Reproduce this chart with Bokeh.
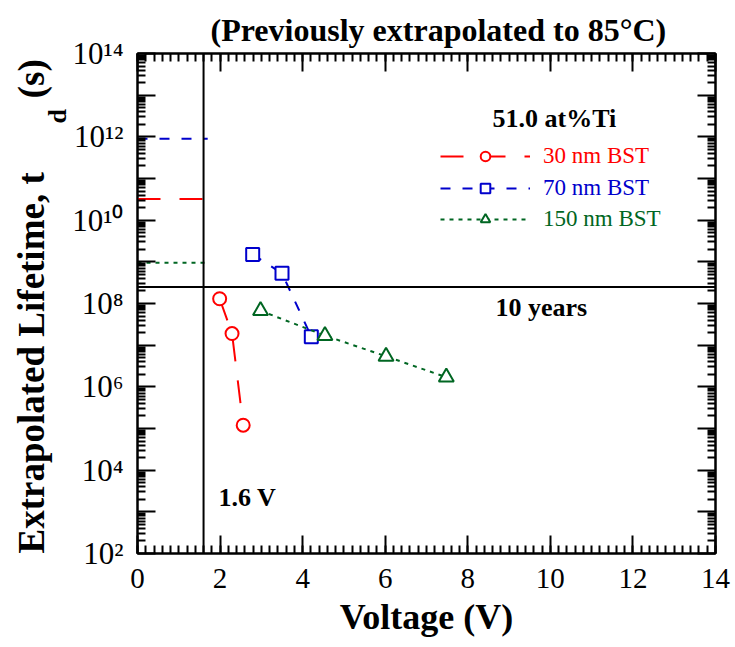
import math
from bokeh.plotting import figure
from bokeh.models import (Span, Label, Legend, LegendItem, FixedTicker, SingleIntervalTicker,
                          LinearAxis, LogAxis, CustomJSTickFormatter, Range1d, Title)
from bokeh.embed import file_html
from bokeh.resources import INLINE

# ---------------- data ----------------
v30 = [1.99, 2.29, 2.56]
t30 = [1.3e8, 1.9e7, 1.2e5]
v70 = [2.79, 3.50, 4.21]
t70 = [1.5e9, 5.3e8, 1.6e7]
v150 = [2.98, 4.54, 6.02, 7.48]
t150 = [6.7e7, 1.7e7, 5.4e6, 1.7e6]

ext_v = [0.0, 1.7]           # extrapolated level segment (0 V .. just past 1.6 V)
ext30 = 3.2e10
ext70 = 9.0e11
ext150 = 9.5e8

v_limit = 1.6                # vertical reference line
ten_years = 2.5e8            # horizontal reference line

x_ticks_interval = 2
y_decades = list(range(2, 15))

labels = ["30 nm BST", "70 nm BST", "150 nm BST"]
colors = ["#ff0000", "#0000cc", "#006622"]

FONT = "Liberation Serif"

p = figure(width=735, height=647, x_range=Range1d(0, 14), y_range=Range1d(1e2, 1e14),
           y_axis_type="log", output_backend="svg", toolbar_location=None,
           min_border_left=137, min_border_right=20, min_border_top=53, min_border_bottom=94)
p.xgrid.visible = False
p.ygrid.visible = False
p.outline_line_color = "black"
p.outline_line_width = 2
p.background_fill_color = "white"
p.border_fill_color = "white"
p.title.text = ""

xt = SingleIntervalTicker(interval=x_ticks_interval, num_minor_ticks=10)
yt = FixedTicker(ticks=[10.0 ** d for d in y_decades],
                 minor_ticks=[k * 10.0 ** d for d in y_decades[:-1] for k in range(2, 10)])

blank = CustomJSTickFormatter(code="return '';")
yfmt = CustomJSTickFormatter(code="""
const e = Math.round(Math.log10(tick));
if (e % 2 != 0) return "";
const sup = {"0":"\\u2070","1":"\\u00b9","2":"\\u00b2","3":"\\u00b3","4":"\\u2074","5":"\\u2075","6":"\\u2076","7":"\\u2077","8":"\\u2078","9":"\\u2079"};
return "10" + String(e).split("").map(c => sup[c]).join("");
""")

def style_axis(ax):
    ax.axis_line_width = 2
    ax.axis_line_color = "black"
    ax.major_tick_line_width = 2
    ax.minor_tick_line_width = 2
    ax.major_tick_in = 18
    ax.major_tick_out = 0
    ax.minor_tick_in = 8
    ax.minor_tick_out = 0
    ax.major_label_text_font = FONT
    ax.major_label_text_color = "black"
    ax.major_label_text_font_size = "28px"

xb = p.xaxis[0]
xb.ticker = xt
style_axis(xb)
xb.major_label_text_font_size = "29px"
xb.major_label_standoff = 15
xb.axis_label = "Voltage (V)"
xb.axis_label_text_font = FONT
xb.axis_label_text_font_size = "36px"
xb.axis_label_text_font_style = "bold"
xb.axis_label_text_color = "black"
xb.axis_label_standoff = 6

yl = p.yaxis[0]
yl.ticker = yt
yl.formatter = yfmt
style_axis(yl)
yl.major_label_text_font_size = "31px"
yl.major_label_standoff = 14

xa = LinearAxis(ticker=xt, formatter=blank)
style_axis(xa)
xa.major_label_standoff = 8
p.add_layout(xa, "above")
yr = LogAxis(ticker=yt, formatter=blank)
style_axis(yr)
yr.major_label_standoff = 0
p.add_layout(yr, "right")

# chart title, placed outside the (mirrored) top axis
p.add_layout(Title(text="(Previously extrapolated to 85\u00b0C)", align="left", offset=73,
                   vertical_align="top", standoff=8, text_font=FONT, text_font_size="32px",
                   text_font_style="bold", text_color="black"), "above")

# y axis title, built from pieces as in the original (subscript d shifted towards the plot)
p.add_layout(Title(text="d", align="left", offset=430, standoff=-4, vertical_align="bottom",
                   text_font=FONT, text_font_size="26px", text_font_style="bold",
                   text_color="black"), "left")
p.add_layout(Title(text="Extrapolated Lifetime, t" + "\u00a0" * 8 + "(s)", align="left", offset=0,
                   standoff=-18, vertical_align="bottom", text_font=FONT, text_font_size="37px",
                   text_font_style="bold", text_color="black"), "left")

# reference lines
p.add_layout(Span(location=v_limit, dimension="height", line_color="black", line_width=2))
p.add_layout(Span(location=ten_years, dimension="width", line_color="black", line_width=2))

# extrapolated levels
p.line(ext_v, [ext30, ext30], line_color=colors[0], line_width=2, line_dash="23 19")
p.line(ext_v, [ext70, ext70], line_color=colors[1], line_width=2, line_dash="10 12")
p.line(ext_v, [ext150, ext150], line_color=colors[2], line_width=2, line_dash="4 5")

# data series
l30 = p.line(v30, t30, line_color=colors[0], line_width=2, line_dash="23 19")
s30 = p.scatter(v30, t30, marker="circle", size=13, line_color=colors[0], line_width=2, fill_color="white")
l70 = p.line(v70, t70, line_color=colors[1], line_width=2, line_dash="10 12")
s70 = p.scatter(v70, t70, marker="square", size=13, line_color=colors[1], line_width=2, fill_color="white")
l150 = p.line(v150, t150, line_color=colors[2], line_width=2, line_dash="4 5")
s150 = p.scatter(v150, t150, marker="triangle", size=15, line_color=colors[2], line_width=2, fill_color="white")

rends = [(l30, s30), (l70, s70), (l150, s150)]
locs = [(303, 384), (303, 352), (303, 321)]
for (lr, sr), lab_, col, loc in zip(rends, labels, colors, locs):
    lg = Legend(items=[LegendItem(label=lab_, renderers=[lr, sr])], location=loc,
                glyph_width=90, glyph_height=24, label_height=24, label_standoff=13,
                padding=0, margin=0, spacing=0, border_line_color=None, background_fill_alpha=0,
                label_text_font=FONT, label_text_font_size="23px", label_text_color=col)
    p.add_layout(lg, "center")

def lab(text, x, y, size, bold=True, align="left", baseline="middle"):
    p.add_layout(Label(x=x, y=y, x_units="screen", y_units="screen", text=text,
                       text_font=FONT, text_font_size=size,
                       text_font_style="bold" if bold else "normal",
                       text_color="black", text_align=align, text_baseline=baseline))

lab("51.0 at%Ti", 355, 435, "26px")
lab("10 years", 358, 246, "26px")
lab("1.6 V", 81, 56, "26px")

open("out.html", "w").write(file_html(p, INLINE))
